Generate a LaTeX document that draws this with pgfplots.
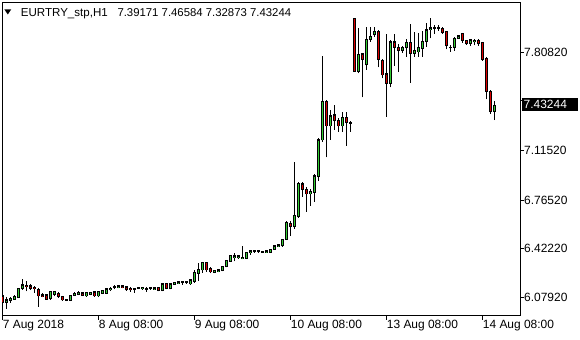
\documentclass[border=0pt]{standalone}
\usepackage{pgfplots}
\pgfplotsset{compat=1.18}
\usepackage{pgfplotstable}
\usepackage{fontspec}
\setmainfont{Liberation Sans}
\definecolor{bull}{RGB}{50,205,50}
\definecolor{bear}{RGB}{220,0,0}
\pgfplotstableread{
i O H L C
0 6.0884 6.1188 6.0369 6.0411
1 6.0440 6.0793 5.9988 6.0602
2 6.0581 6.0835 6.0411 6.0694
3 6.0651 6.0934 6.0602 6.0835
4 6.0793 6.1484 6.0743 6.1428
5 6.1428 6.2063 6.1308 6.1661
6 6.1639 6.1943 6.1216 6.1541
7 6.1590 6.1710 6.1308 6.1428
8 6.1498 6.1590 6.1117 6.1399
9 6.1357 6.1428 6.0129 6.0884
10 6.0955 6.1075 6.0793 6.0863
11 6.0955 6.0990 6.0602 6.0651
12 6.0673 6.1237 6.0602 6.1188
13 6.1025 6.1258 6.0884 6.1188
14 6.1075 6.1188 6.0764 6.0835
15 6.0835 6.0884 6.0553 6.0602
16 6.0581 6.0694 6.0531 6.0651
17 6.0581 6.0976 6.0531 6.0934
18 6.0934 6.1188 6.0884 6.1075
19 6.1025 6.1216 6.0934 6.1117
20 6.1096 6.1167 6.0884 6.0934
21 6.0884 6.1167 6.0835 6.1117
22 6.0976 6.1167 6.0934 6.1117
23 6.1167 6.1216 6.0835 6.0884
24 6.0884 6.1237 6.0793 6.1188
25 6.1075 6.1308 6.1025 6.1258
26 6.1075 6.1428 6.1025 6.1378
27 6.1308 6.1541 6.1237 6.1428
28 6.1449 6.1639 6.1357 6.1519
29 6.1470 6.1639 6.1428 6.1590
30 6.1590 6.1639 6.1428 6.1470
31 6.1519 6.1569 6.1258 6.1308
32 6.1428 6.1541 6.1188 6.1308
33 6.1399 6.1449 6.1117 6.1357
34 6.1399 6.1519 6.1357 6.1470
35 6.1378 6.1519 6.1329 6.1470
36 6.1399 6.1498 6.1188 6.1357
37 6.1399 6.1541 6.1308 6.1449
38 6.1357 6.1498 6.1308 6.1449
39 6.1498 6.1541 6.1216 6.1258
40 6.1258 6.1781 6.1216 6.1731
41 6.1781 6.1823 6.1357 6.1399
42 6.1399 6.1781 6.1357 6.1731
43 6.1710 6.1872 6.1661 6.1823
44 6.1781 6.1922 6.1731 6.1872
45 6.1823 6.1964 6.1682 6.1872
46 6.1872 6.1922 6.1752 6.1802
47 6.1731 6.2063 6.1682 6.2013
48 6.1893 6.2719 6.1823 6.2529
49 6.2486 6.3192 6.1964 6.2768
50 6.2719 6.3305 6.2529 6.3234
51 6.3234 6.3305 6.2599 6.2719
52 6.2811 6.2952 6.2486 6.2578
53 6.2557 6.2719 6.2507 6.2670
54 6.2599 6.2768 6.2557 6.2719
55 6.2670 6.3001 6.2627 6.2952
56 6.2952 6.3425 6.2910 6.3375
57 6.3333 6.3799 6.3284 6.3756
58 6.3615 6.3898 6.3333 6.3707
59 6.3566 6.3756 6.3517 6.3707
60 6.3517 6.4413 6.3474 6.3615
61 6.3545 6.3989 6.3495 6.3940
62 6.3968 6.4131 6.3778 6.4060
63 6.3989 6.4109 6.3940 6.4060
64 6.4060 6.4109 6.3940 6.3989
65 6.3968 6.4060 6.3919 6.4011
66 6.3968 6.4109 6.3919 6.4060
67 6.3968 6.4222 6.3919 6.4180
68 6.4180 6.4462 6.4131 6.4413
69 6.4392 6.4533 6.4342 6.4483
70 6.4413 6.4928 6.4363 6.4886
71 6.4886 6.6198 6.4836 6.6057
72 6.6015 6.6156 6.5118 6.5775
73 6.5775 7.0341 6.5634 6.6579
74 6.6480 6.8929 6.6389 6.8838
75 6.8788 6.8929 6.7871 6.8414
76 6.8414 6.8576 6.6833 6.8082
77 6.8082 6.8435 6.7236 6.8245
78 6.8174 6.9494 6.7539 6.9353
79 6.9303 7.2034 6.9021 7.1893
80 7.1893 7.7821 7.1752 7.4596
81 7.4596 7.4716 7.0672 7.2881
82 7.2881 7.4010 7.1893 7.3587
83 7.3657 7.4363 7.2599 7.3255
84 7.3255 7.3446 7.2479 7.2881
85 7.2881 7.3890 7.2479 7.3495
86 7.3495 7.3890 7.1470 7.3114
87 7.3072 7.3255 7.2479 7.3114
88 8.0482 8.0503 7.6692 7.6713
89 7.6713 7.9776 7.6600 7.7892
90 7.7962 7.8054 7.4906 7.7588
91 7.7186 7.9889 7.6833 7.9000
92 7.9000 7.9846 7.8809 7.9183
93 7.9324 7.9889 7.9183 7.9564
94 7.9564 7.9656 7.7024 7.7588
95 7.7489 7.7609 7.6247 7.6480
96 7.6551 7.9374 7.3537 7.5894
97 7.5894 7.8950 7.5612 7.8809
98 7.8809 7.9374 7.7115 7.8435
99 7.8435 7.8668 7.6713 7.8195
100 7.8195 7.8527 7.8033 7.8386
101 7.8386 7.9042 7.7772 7.8760
102 7.8760 8.0079 7.5937 7.8012
103 7.8012 7.9536 7.7772 7.8195
104 7.8103 7.9423 7.7772 7.8386
105 7.8365 7.9607 7.7772 7.8831
106 7.8831 8.0129 7.8477 7.9656
107 7.9705 8.0482 7.9070 7.9797
108 7.9748 8.0009 7.9374 7.9797
109 7.9797 8.0009 7.9607 7.9748
110 7.9776 7.9889 7.9374 7.9465
111 7.9536 7.9585 7.8294 7.8527
112 7.8386 7.8597 7.8124 7.8435
113 7.8435 7.9162 7.8195 7.9070
114 7.9070 7.9303 7.9021 7.9232
115 7.9374 7.9444 7.8760 7.8901
116 7.8901 7.8950 7.8597 7.8668
117 7.8668 7.9042 7.8527 7.8950
118 7.8809 7.9042 7.8576 7.8901
119 7.8901 7.9042 7.8527 7.8668
120 7.8760 7.8809 7.7489 7.7588
121 7.7659 7.7729 7.4765 7.5302
122 7.5302 7.5422 7.3728 7.3890
123 7.39171 7.46584 7.32873 7.43244
}\candles

\pgfplotsset{
  candlepart/.style n args={2}{draw=none, mark=none, forget plot,
    error bars/.cd, y dir=plus, y explicit, error mark=none,
    error bar style={draw=#1, line width=#2, line cap=butt}},
}

\begin{document}
\begin{tikzpicture}
\path[use as bounding box] (-2bp,-24.3bp) rectangle (578bp,315.7bp);
\begin{axis}[
  at={(0,0)}, anchor=south west,
  scale only axis, width=518bp, height=313bp,
  xmin=-0.175, xmax=129.325, ymin=5.9494, ymax=8.1582,
  axis line style={line width=1bp, black},
  xtick={0,24,48,72,96,120},
  xticklabels={7 Aug 2018,8 Aug 08:00,9 Aug 08:00,10 Aug 08:00,13 Aug 08:00,14 Aug 08:00},
  ytick={6.0792,6.4222,6.7652,7.1152,7.4652,7.8082},
  yticklabels={6.07920,6.42220,6.76520,7.11520,,7.80820},
  xtick pos=bottom, ytick pos=right, yticklabel pos=right,
  tick align=outside, major tick length=4bp,
  tick style={line width=1bp, black},
  /pgf/number format/assume math mode=true,
  xticklabel style={anchor=north west, inner sep=0pt, font=\fontsize{12}{14}\selectfont},
  yticklabel style={anchor=west, inner sep=0pt, font=\fontsize{12}{14}\selectfont},
  clip mode=individual,
]
% wicks
\addplot[candlepart={black}{1bp}]
  table[x=i, y=L, y error expr=\thisrow{H}-\thisrow{L}] {\candles};
% body outlines
\addplot[candlepart={black}{3bp}]
  table[x=i, y expr={min(\thisrow{O},\thisrow{C})-0.0035}, y error expr={abs(\thisrow{C}-\thisrow{O})+0.0071}] {\candles};
% bullish interiors
\addplot[candlepart={bull}{1bp}]
  table[x=i, y expr={\thisrow{O}+0.0035}, y error expr={max(\thisrow{C}-\thisrow{O}-0.0071,0)}] {\candles};
% bearish interiors
\addplot[candlepart={bear}{1bp}]
  table[x=i, y expr={\thisrow{C}+0.0035}, y error expr={max(\thisrow{O}-\thisrow{C}-0.0071,0)}] {\candles};
\end{axis}
% header
\fill[black] (2.3bp,306.4bp) -- (9.3bp,306.4bp) -- (5.8bp,301.2bp) -- cycle;
\node[anchor=base west, inner sep=0pt, font=\fontsize{11.6}{13}\selectfont] at (18.7bp,299bp) {EURTRY\_stp,H1};
\node[anchor=base west, inner sep=0pt, font=\fontsize{11.4}{13}\selectfont] at (115.3bp,299bp) {7.39171 7.46584 7.32873 7.43244};
% current price box
\fill[black] (519.7bp,204.3bp) rectangle (575.7bp,217.9bp);
\node[anchor=west, inner sep=0pt, text=white, font=\fontsize{12}{14}\selectfont] at (521.5bp,211.1bp) {7.43244};
\end{tikzpicture}
\end{document}
